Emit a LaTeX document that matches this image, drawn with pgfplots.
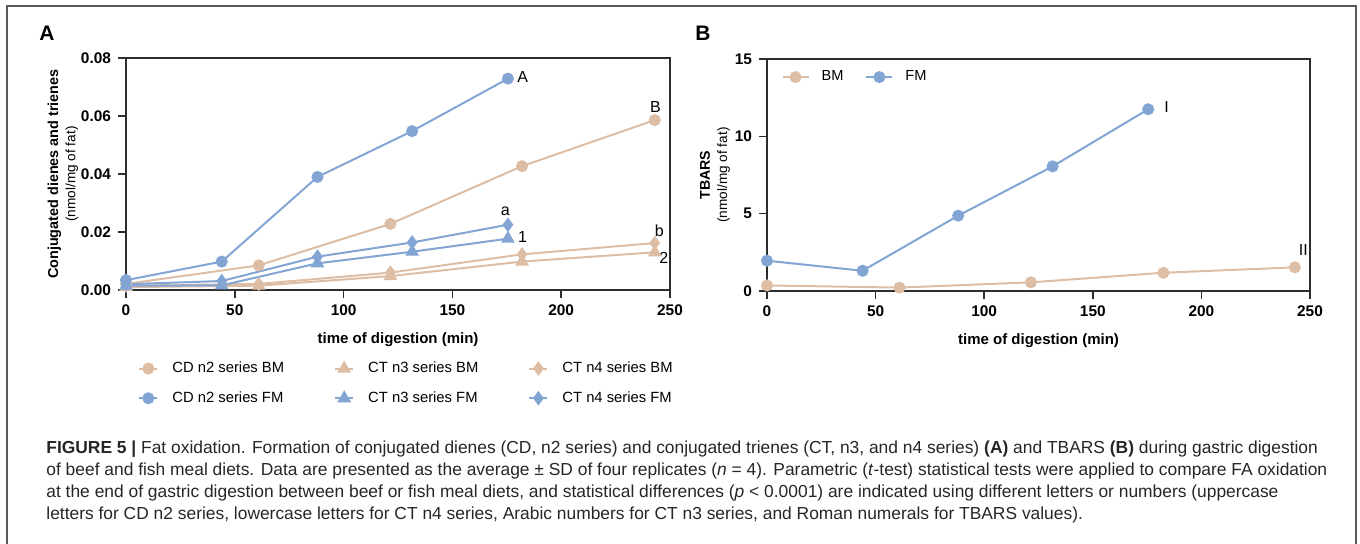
\documentclass[border=0pt]{standalone}
\usepackage{pgfplots}
\pgfplotsset{compat=1.18}
\usepackage{fontspec}
\setmainfont{Liberation Sans}
\definecolor{bmc}{RGB}{221,190,165}
\definecolor{fmc}{RGB}{130,165,212}
\definecolor{axc}{RGB}{45,45,45}
\begin{document}
\begin{tikzpicture}
\useasboundingbox (0,0) rectangle (680pt,-271.5pt);
\draw[color=black!65, line width=0.7pt] (3.5pt,-273pt) -- (3.5pt,-3pt) -- (678pt,-3pt) -- (678pt,-273pt);
\pgfplotsset{
  myaxis/.style={
    scale only axis, width=272pt, height=116pt,
    xmin=0, xmax=250, xtick={0,50,100,150,200,250},
    axis line style={axc, line width=0.75pt},
    tick style={axc, line width=0.75pt},
    tick align=outside, xtick pos=bottom, ytick pos=left,
    major tick length=4pt,
    ticklabel style={font=\fontsize{7.7}{8}\selectfont\bfseries},
    /pgf/number format/assume math mode=true,
    scaled y ticks=false,
    xlabel={time of digestion (min)},
    xlabel style={font=\fontsize{7.5}{9}\selectfont\bfseries, yshift=-1.5pt},
    ylabel style={font=\fontsize{6.8}{8.6}\selectfont, align=center, rotate=0, anchor=center},
    every axis plot/.append style={line width=1pt, mark size=2.5pt},
    legend cell align=left,
    clip=false,
  },
}
\pgfplotstableread{
x cdbm ctthreebm ctfourbm
0 0.0021 0.0010 0.0015
61 0.0085 0.0015 0.0021
121.5 0.0228 0.0048 0.0060
182 0.0427 0.0098 0.0123
243 0.0586 0.0130 0.0162
}\bmdata
\pgfplotstableread{
x cdfm ctthreefm ctfourfm
0 0.0034 0.0015 0.0020
44 0.0098 0.0016 0.0031
88 0.0390 0.0092 0.0115
131.5 0.0548 0.0132 0.0164
175.5 0.0729 0.0177 0.0225
}\fmdata
\pgfplotstableread{
x bm
0 0.36
61 0.22
121.5 0.56
182.5 1.18
243 1.53
}\tbbm
\pgfplotstableread{
x fm
0 1.96
44 1.31
88 4.87
131.5 8.06
175.5 11.75
}\tbfm

\node[font=\fontsize{10.5}{12}\selectfont\bfseries] at (23.5pt,-16.5pt) {A};
\node[font=\fontsize{10.5}{12}\selectfont\bfseries] at (351.5pt,-16.5pt) {B};

\begin{axis}[myaxis, at={(63pt,-145pt)}, anchor=south west,
  ymin=0, ymax=0.08, ytick={0,0.02,0.04,0.06,0.08},
  yticklabel style={/pgf/number format/.cd, fixed, fixed zerofill, precision=2},
  ylabel={{\fontsize{7.2}{8.6}\selectfont\bfseries Conjugated dienes and trienes}\\(nmol/mg of fat)},
  ylabel style={at={([xshift=-31.5pt]rel axis cs:0,0.5)}},
  legend columns=3,
  legend image code/.code={\draw[mark repeat=2, mark phase=2, #1] plot coordinates {(0pt,0pt) (4.5pt,0pt) (9pt,0pt)};},
  legend style={draw=none, fill=none, font=\fontsize{7.4}{8}\selectfont,
    at={(rel axis cs:0.022,-0.29)}, anchor=north west, inner sep=0pt,
    row sep=4pt,
    /tikz/every odd column/.append style={column sep=5pt},
    /tikz/every even column/.append style={column sep=23pt}},
]
\addplot[bmc, mark=*] table[x=x, y=cdbm] {\bmdata};
\addlegendentry{CD n2 series BM}
\addplot[bmc, mark=triangle*, mark size=3pt] table[x=x, y=ctthreebm] {\bmdata};
\addlegendentry{CT n3 series BM}
\addplot[bmc, mark=diamond*, mark size=2.8pt] table[x=x, y=ctfourbm] {\bmdata};
\addlegendentry{CT n4 series BM}
\addplot[fmc, mark=*] table[x=x, y=cdfm] {\fmdata};
\addlegendentry{CD n2 series FM}
\addplot[fmc, mark=triangle*, mark size=3pt] table[x=x, y=ctthreefm] {\fmdata};
\addlegendentry{CT n3 series FM}
\addplot[fmc, mark=diamond*, mark size=2.8pt] table[x=x, y=ctfourfm] {\fmdata};
\addlegendentry{CT n4 series FM}
\node[font=\fontsize{8}{9}\selectfont] at (axis cs:182.3,0.0736) {A};
\node[font=\fontsize{8}{9}\selectfont] at (axis cs:243.3,0.0632) {B};
\node[font=\fontsize{8}{9}\selectfont] at (axis cs:174.3,0.0270) {a};
\node[font=\fontsize{8}{9}\selectfont] at (axis cs:182.3,0.0182) {1};
\node[font=\fontsize{8}{9}\selectfont] at (axis cs:245.1,0.0203) {b};
\node[font=\fontsize{8}{9}\selectfont] at (axis cs:247.2,0.0109) {2};
\end{axis}

\begin{axis}[myaxis, at={(383.5pt,-145.5pt)}, anchor=south west, width=271.5pt,
  ymin=0, ymax=15, ytick={0,5,10,15},
  ylabel={{\fontsize{7.1}{8.6}\selectfont\bfseries TBARS}\\(nmol/mg of fat)},
  ylabel style={at={([xshift=-26pt]rel axis cs:0,0.5)}},
  legend columns=2,
  legend image code/.code={\draw[mark repeat=2, mark phase=2, #1] plot coordinates {(0pt,0pt) (6.5pt,0pt) (13pt,0pt)};},
  legend style={draw=none, fill=none, font=\fontsize{7.3}{8}\selectfont,
    at={(rel axis cs:0.026,0.922)}, anchor=west, inner sep=0pt,
    /tikz/every odd column/.append style={column sep=4pt},
    /tikz/every even column/.append style={column sep=9pt}},
]
\addplot[bmc, mark=*] table[x=x, y=bm] {\tbbm};
\addlegendentry{BM}
\addplot[fmc, mark=*] table[x=x, y=fm] {\tbfm};
\addlegendentry{FM}
\node[font=\fontsize{8}{9}\selectfont] at (axis cs:184,11.91) {I};
\node[font=\fontsize{8}{9}\selectfont] at (axis cs:246.9,2.65) {II};
\end{axis}

\node[anchor=base west, inner sep=0pt, align=left, text=black!85,
  font=\fontsize{8.7}{10.85}\selectfont] at (23pt,-259.5pt) {%
\textbf{FIGURE 5 |} Fat oxidation. Formation of conjugated dienes (CD, n2 series) and conjugated trienes (CT, n3, and n4 series) \textbf{(A)} and TBARS \textbf{(B)} during gastric digestion\\
of beef and fish meal diets. Data are presented as the average ± SD of four replicates (\textit{n} = 4). Parametric (\textit{t}-test) statistical tests were applied to compare FA oxidation\\
at the end of gastric digestion between beef or fish meal diets, and statistical differences (\textit{p} < 0.0001) are indicated using different letters or numbers (uppercase\\
letters for CD n2 series, lowercase letters for CT n4 series, Arabic numbers for CT n3 series, and Roman numerals for TBARS values).};
\end{tikzpicture}
\end{document}
